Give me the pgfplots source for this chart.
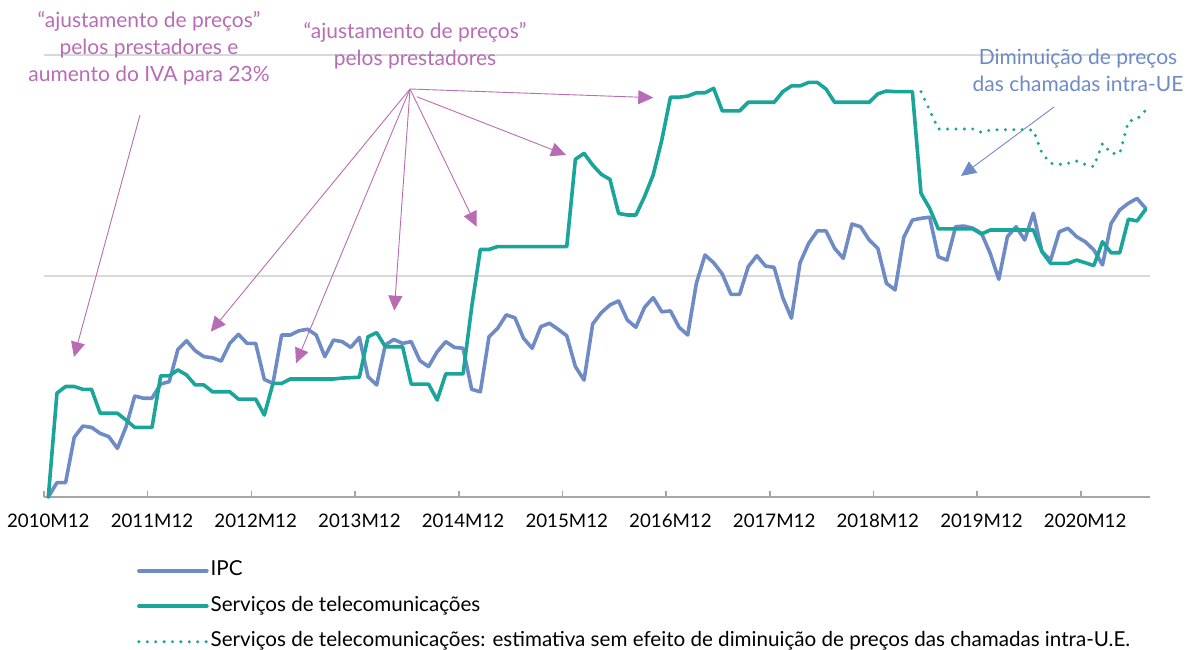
\documentclass[border=0pt]{standalone}
\usepackage{fontspec}
\setmainfont{Lato}
\usepackage{pgfplots}
\pgfplotsset{compat=1.18}
\usetikzlibrary{arrows.meta}
\definecolor{ipc}{HTML}{6E8BC6}
\definecolor{tel}{HTML}{1AA59A}
\definecolor{ann}{HTML}{B86CB4}
\definecolor{axgray}{HTML}{A6A6A6}
\definecolor{gridc}{HTML}{D9D9D9}
\begin{document}
\begin{tikzpicture}[x=1pt,y=1pt]
\useasboundingbox (0,0) rectangle (1187,650);
\begin{axis}[
  at={(44pt,153pt)}, anchor=south west,
  scale only axis, width=1106pt, height=442pt,
  xmin=-0.5, xmax=127.5, ymin=0, ymax=20,
  clip=false,
  axis x line*=bottom, axis y line*=left,
  y axis line style={draw=none},
  x axis line style={axgray, line width=1.8pt},
  xtick={-0.5,11.5,...,119.5},
  xticklabels={2010M12,2011M12,2012M12,2013M12,2014M12,2015M12,2016M12,2017M12,2018M12,2019M12,2020M12},
  xticklabel style={xshift=4.32pt, yshift=-13pt, font=\fontsize{18.7}{22}\selectfont, text=black},
  tick align=inside, major tick length=6pt,
  x tick style={axgray, line width=1.5pt},
  ytick={10,20}, yticklabels={}, ymajorgrids,
  y tick style={draw=none},
  y grid style={gridc, line width=1.3pt},
  legend cell align=left,
  legend style={at={(axis description cs:0.084,-0.141)}, anchor=north west, draw=none, fill=none,
    font=\fontsize{20.6}{24}\selectfont, row sep=13pt, inner sep=0pt,
    nodes={inner sep=2pt, text height=14pt, text depth=4.5pt}},
  legend image code/.code={\draw[#1] (0pt,0pt) -- (68pt,0pt);},
]
\addplot[ipc, line width=3.6pt, line join=round, line cap=round] coordinates {
(0,0)(1,0.65)(2,0.65)(3,2.7)(4,3.21)(5,3.15)(6,2.88)(7,2.73)(8,2.2)(9,3.18)(10,4.57)(11,4.47)(12,4.47)(13,5.11)(14,5.22)(15,6.68)(16,7.07)(17,6.62)(18,6.35)(19,6.3)(20,6.15)(21,6.95)(22,7.36)(23,6.95)(24,6.95)(25,5.32)(26,5.14)(27,7.33)(28,7.33)(29,7.52)(30,7.59)(31,7.33)(32,6.35)(33,7.1)(34,7.03)(35,6.77)(36,7.22)(37,5.44)(38,5.07)(39,6.88)(40,7.13)(41,6.95)(42,7.03)(43,6.17)(44,5.9)(45,6.57)(46,7.03)(47,6.77)(48,6.73)(49,4.87)(50,4.76)(51,7.25)(52,7.63)(53,8.24)(54,8.11)(55,7.18)(56,6.73)(57,7.71)(58,7.86)(59,7.59)(60,7.29)(61,5.9)(62,5.29)(63,7.83)(64,8.34)(65,8.69)(66,8.87)(67,8.01)(68,7.68)(69,8.58)(70,9.02)(71,8.38)(72,8.42)(73,7.68)(74,7.33)(75,9.67)(76,10.95)(77,10.6)(78,10.09)(79,9.17)(80,9.17)(81,10.42)(82,10.92)(83,10.45)(84,10.39)(85,9.02)(86,8.09)(87,10.6)(88,11.48)(89,12.04)(90,12.04)(91,11.25)(92,10.8)(93,12.35)(94,12.23)(95,11.63)(96,11.25)(97,9.67)(98,9.37)(99,11.75)(100,12.53)(101,12.61)(102,12.66)(103,10.87)(104,10.72)(105,12.23)(106,12.26)(107,12.16)(108,11.93)(109,11.03)(110,9.85)(111,11.78)(112,12.23)(113,11.63)(114,12.84)(115,11.1)(116,10.72)(117,12.0)(118,12.16)(119,11.78)(120,11.55)(121,11.18)(122,10.5)(123,12.38)(124,12.99)(125,13.29)(126,13.51)(127,13.06)
};
\addlegendentry{IPC}
\addplot[tel, line width=3.6pt, line join=round, line cap=round] coordinates {
(0,0)(1,4.7)(2,5.0)(3,5.0)(4,4.87)(5,4.87)(6,3.79)(7,3.79)(8,3.79)(9,3.48)(10,3.15)(11,3.15)(12,3.15)(13,5.48)(14,5.48)(15,5.75)(16,5.52)(17,5.07)(18,5.07)(19,4.76)(20,4.76)(21,4.76)(22,4.43)(23,4.43)(24,4.43)(25,3.71)(26,5.14)(27,5.14)(28,5.34)(29,5.34)(30,5.34)(31,5.34)(32,5.34)(33,5.34)(34,5.38)(35,5.40)(36,5.42)(37,7.25)(38,7.44)(39,6.8)(40,6.8)(41,6.8)(42,5.11)(43,5.11)(44,5.11)(45,4.39)(46,5.57)(47,5.57)(48,5.57)(49,8.6)(50,11.2)(51,11.2)(52,11.33)(53,11.33)(54,11.33)(55,11.33)(56,11.33)(57,11.33)(58,11.33)(59,11.33)(60,11.33)(61,15.28)(62,15.55)(63,15.02)(64,14.6)(65,14.37)(66,12.83)(67,12.76)(68,12.76)(69,13.59)(70,14.57)(71,16.15)(72,18.09)(73,18.09)(74,18.14)(75,18.29)(76,18.29)(77,18.49)(78,17.47)(79,17.47)(80,17.47)(81,17.86)(82,17.86)(83,17.86)(84,17.86)(85,18.34)(86,18.6)(87,18.6)(88,18.76)(89,18.76)(90,18.46)(91,17.86)(92,17.86)(93,17.86)(94,17.86)(95,17.86)(96,18.24)(97,18.37)(98,18.34)(99,18.34)(100,18.34)(101,13.74)(102,13.06)(103,12.13)(104,12.13)(105,12.13)(106,12.13)(107,12.13)(108,11.9)(109,12.08)(110,12.08)(111,12.08)(112,12.08)(113,12.08)(114,12.08)(115,11.1)(116,10.57)(117,10.57)(118,10.57)(119,10.72)(120,10.6)(121,10.47)(122,11.55)(123,11.05)(124,11.05)(125,12.57)(126,12.49)(127,13.02)
};
\addlegendentry{Serviços de telecomunicações}
\addplot[tel, line width=3.4pt, line cap=round, dash pattern=on 0pt off 8.4pt] coordinates {
(101,18.34)(102,17.5)(103,16.65)(104,16.65)(105,16.65)(106,16.65)(107,16.65)(108,16.5)(109,16.6)(110,16.62)(111,16.62)(112,16.62)(113,16.62)(114,16.6)(115,15.55)(116,15.1)(117,15.05)(118,15.1)(119,15.2)(120,15.05)(121,14.95)(122,16.0)(123,15.55)(124,15.55)(125,17.0)(126,17.1)(127,17.5)
};
\addlegendentry{Serviços de telecomunicações: estimativa sem efeito de diminuição de preços das chamadas intra-U.E.}
\end{axis}
% annotations (image coords: y -> 650 - y)
\begin{scope}[font=\fontsize{21}{27}\selectfont]
\node[ann, align=center, anchor=center] at (149,650-48) {“ajustamento de preços”\\pelos prestadores e\\aumento do IVA para 23\%};
\node[ann, align=center, anchor=center] at (415,650-46) {“ajustamento de preços”\\pelos prestadores};
\node[ipc, align=center, anchor=center] at (1078,650-70) {Diminuição de preços\\das chamadas intra-UE};
\end{scope}
\begin{scope}[ann, line width=0.9pt, -{Triangle[length=15pt,width=14pt]}]
\draw (140,650-115) -- (74,650-357);
\draw (410,650-89) -- (210.7,650-331.7);
\draw (410,650-89) -- (296,650-363.3);
\draw (410,650-89) -- (394.3,650-310.7);
\draw (410,650-89) -- (476.7,650-226.7);
\draw (416.7,650-96.7) -- (566,650-155);
\draw (410,650-89) -- (653.3,650-97.7);
\end{scope}
\draw[ipc, line width=0.9pt, -{Triangle[length=15pt,width=14pt]}] (1054,650-107) -- (961,650-176);
\end{tikzpicture}
\end{document}
